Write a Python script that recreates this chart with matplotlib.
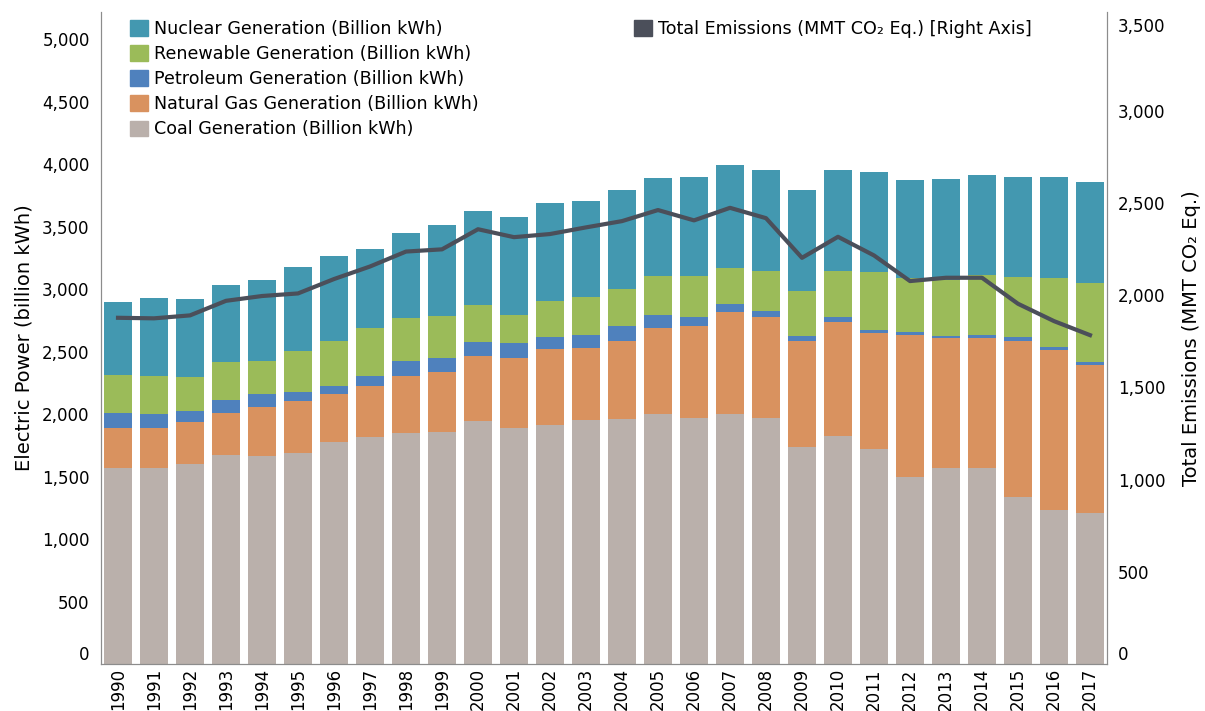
import numpy as np
import matplotlib.pyplot as plt
from matplotlib.patches import Patch
from matplotlib.ticker import FuncFormatter

years = list(range(1990, 2018))

# generation by source, billion kWh
coal = [1570, 1570, 1600, 1669, 1664, 1688, 1776, 1816, 1848, 1856,
        1944, 1888, 1912, 1952, 1960, 2000, 1968, 2000, 1968, 1736,
        1824, 1720, 1496, 1568, 1568, 1336, 1232, 1208]
natural_gas = [318, 318, 336, 339, 392, 416, 384, 408, 456, 480,
               520, 560, 608, 576, 624, 688, 736, 816, 808, 848,
               912, 928, 1136, 1040, 1040, 1248, 1280, 1184]
petroleum = [120, 112, 88, 104, 104, 72, 64, 80, 120, 112,
             112, 120, 96, 104, 120, 104, 72, 66, 48, 40,
             40, 24, 24, 16, 24, 32, 24, 24]
renewable = [304, 304, 272, 304, 264, 328, 360, 384, 344, 336,
             296, 224, 288, 304, 296, 312, 328, 286, 320, 360,
             368, 464, 432, 448, 480, 480, 552, 632]
nuclear = [584, 624, 624, 616, 648, 672, 680, 632, 680, 728,
           752, 784, 784, 768, 792, 784, 792, 824, 808, 808,
           808, 800, 784, 808, 800, 800, 808, 808]

# total emissions, MMT CO2 Eq. (right axis)
emissions = [1877, 1874, 1890, 1969, 1995, 2009, 2087, 2155, 2236, 2248,
             2357, 2314, 2331, 2367, 2401, 2461, 2405, 2473, 2417, 2202,
             2316, 2215, 2076, 2094, 2094, 1953, 1859, 1783]

c_coal = '#BAB0AB'
c_gas = '#D9925F'
c_pet = '#4F81BD'
c_ren = '#9BBB59'
c_nuc = '#4398B0'
c_line = '#4B4F5A'
grey = '#8C8C8C'

fig = plt.figure(figsize=(12.05, 7.11), dpi=100)
ax = fig.add_axes([0.0836, 0.066, 0.835, 0.917])
ax2 = ax.twinx()

x = np.arange(len(years))
w = 0.78
bottom = np.zeros(len(years))
for vals, col in [(coal, c_coal), (natural_gas, c_gas), (petroleum, c_pet),
                  (renewable, c_ren), (nuclear, c_nuc)]:
    ax.bar(x, vals, w, bottom=bottom, color=col, zorder=2)
    bottom += np.array(vals)

ax2.plot(x, emissions, color=c_line, lw=3, solid_joinstyle='round', zorder=3)

ax.set_xlim(-0.48, 27.47)
ax.set_ylim(0, 5216)
ax2.set_ylim(0, 3534)
ax.set_xticks(x)
ax.set_xticklabels([str(y) for y in years], rotation=90, fontsize=12)
ax.set_yticks(range(0, 5001, 500))
ax2.set_yticks(range(0, 3501, 500))
fmt = FuncFormatter(lambda v, p: f'{int(v):,}')
ax.yaxis.set_major_formatter(fmt)
ax2.yaxis.set_major_formatter(fmt)
ax.tick_params(axis='y', length=0, labelsize=12, pad=8)
ax2.tick_params(axis='y', length=0, labelsize=12, pad=8)
ax.tick_params(axis='x', length=0, pad=3)

# end labels sit inside the axis range, as in the original
ax.yaxis.get_major_ticks()[0].label1.set_va('bottom')
ax2.yaxis.get_major_ticks()[0].label2.set_va('bottom')
ax2.yaxis.get_major_ticks()[-1].label2.set_va('top')

for a in (ax, ax2):
    a.spines['top'].set_visible(False)
    for s in ('left', 'right', 'bottom'):
        a.spines[s].set_color(grey)
ax2.set_zorder(ax.get_zorder() + 1)
ax2.patch.set_visible(False)

ax.set_ylabel('Electric Power (billion kWh)', fontsize=14, labelpad=6)
ax2.set_ylabel('Total Emissions (MMT CO\u2082 Eq.)', fontsize=14, labelpad=12)

handles = [Patch(color=c_nuc), Patch(color=c_ren), Patch(color=c_pet),
           Patch(color=c_gas), Patch(color=c_coal)]
labels = ['Nuclear Generation (Billion kWh)', 'Renewable Generation (Billion kWh)',
          'Petroleum Generation (Billion kWh)', 'Natural Gas Generation (Billion kWh)',
          'Coal Generation (Billion kWh)']
leg1 = ax2.legend(handles, labels, loc='upper left', bbox_to_anchor=(0.017, 1.007),
                  frameon=False, fontsize=12.6, handlelength=1.0, handleheight=1.0,
                  handletextpad=0.35, labelspacing=0.41, borderaxespad=0.3)
ax2.add_artist(leg1)
ax2.legend([Patch(color=c_line)], ['Total Emissions (MMT CO\u2082 Eq.) [Right Axis]'],
           loc='upper left', bbox_to_anchor=(0.518, 1.007), frameon=False, fontsize=12.6,
           handlelength=1.0, handleheight=1.0, handletextpad=0.35, borderaxespad=0.3)

plt.savefig('out.png', dpi=100)
